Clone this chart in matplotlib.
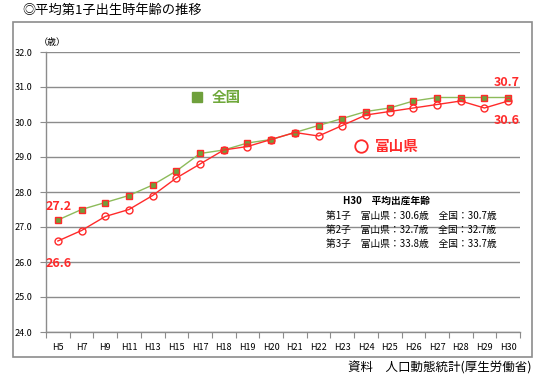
import matplotlib
matplotlib.use("Agg")
import matplotlib.pyplot as plt
from matplotlib.patches import Rectangle
from matplotlib.lines import Line2D

plt.rcParams['font.family'] = ['Noto Sans CJK JP', 'DejaVu Sans']

years = ["H5", "H7", "H9", "H11", "H13", "H15", "H17", "H18", "H19", "H20",
         "H21", "H22", "H23", "H24", "H25", "H26", "H27", "H28", "H29", "H30"]
national = [27.2, 27.5, 27.7, 27.9, 28.2, 28.6, 29.1, 29.2, 29.4, 29.5,
            29.7, 29.9, 30.1, 30.3, 30.4, 30.6, 30.7, 30.7, 30.7, 30.7]
toyama = [26.6, 26.9, 27.3, 27.5, 27.9, 28.4, 28.8, 29.2, 29.3, 29.5,
          29.7, 29.6, 29.9, 30.2, 30.3, 30.4, 30.5, 30.6, 30.4, 30.6]
yticks = [24.0, 25.0, 26.0, 27.0, 28.0, 29.0, 30.0, 31.0, 32.0]

GREEN_LINE = "#8DBB5A"
GREEN_FILL = "#6FA03C"
GREEN_TEXT = "#6FA83A"
RED = "#FF2A2A"
GRAY = "#8C8C8C"

W, H = 540, 380
fig = plt.figure(figsize=(W / 100, H / 100), dpi=100)

# outer frame
fig.patches.append(Rectangle((13 / W, 1 - 357 / H), (532 - 13) / W, (357 - 22) / H,
                             transform=fig.transFigure, fill=False,
                             edgecolor=GRAY, linewidth=1.2))

ax = fig.add_axes([46 / W, 1 - 332 / H, (520 - 46) / W, (332 - 52) / H])
x = list(range(len(years)))

ax.plot(x, national, color=GREEN_LINE, linewidth=1.0, marker='s', markersize=5,
        markerfacecolor=GREEN_FILL, markeredgecolor=RED, markeredgewidth=1.0, zorder=3)
ax.plot(x, toyama, color=RED, linewidth=1.0, marker='o', markersize=5,
        markerfacecolor='none', markeredgecolor=RED, markeredgewidth=1.0, zorder=4)

ax.set_xlim(-0.5, len(years) - 0.5)
ax.set_ylim(24, 32)
ax.set_yticks(yticks)
ax.set_yticklabels([f"{v:.1f}" for v in yticks], fontsize=6.5)
ax.set_xticks(x)
ax.set_xticklabels(years, fontsize=6.5)
ax.set_xticks([i - 0.5 for i in range(len(years) + 1)], minor=True)
ax.tick_params(axis='x', which='major', length=0, pad=8)
ax.tick_params(axis='x', which='minor', length=4, color=GRAY, width=0.8)
ax.tick_params(axis='y', length=4, color=GRAY, width=0.8, pad=6)
ax.grid(axis='y', color=GRAY, linewidth=1.0)
ax.set_axisbelow(True)
for s in ['top', 'right']:
    ax.spines[s].set_visible(False)
for s in ['left', 'bottom']:
    ax.spines[s].set_color(GRAY)
    ax.spines[s].set_linewidth(1.0)

# value annotations
ax.annotate(f"{national[0]:.1f}", (x[0], national[0]), xytext=(-9, 10),
            textcoords='offset points', color=RED, fontsize=9, fontweight='bold',
            ha='left', va='center')
ax.annotate(f"{toyama[0]:.1f}", (x[0], toyama[0]), xytext=(-9, -16),
            textcoords='offset points', color=RED, fontsize=9, fontweight='bold',
            ha='left', va='center')
ax.annotate(f"{national[-1]:.1f}", (x[-1], national[-1]), xytext=(8, 11),
            textcoords='offset points', color=RED, fontsize=9, fontweight='bold',
            ha='right', va='center')
ax.annotate(f"{toyama[-1]:.1f}", (x[-1], toyama[-1]), xytext=(8, -14),
            textcoords='offset points', color=RED, fontsize=9, fontweight='bold',
            ha='right', va='center')

# texts in figure pixel coordinates
def ftext(px, py, s, **kw):
    fig.text(px / W, 1 - py / H, s, **kw)

ftext(22, 10, "◎平均第1子出生時年齢の推移", fontsize=9.5, va='center', ha='left')
ftext(39, 42, "（歳）", fontsize=6.5, va='center', ha='left')
ftext(531, 368, "資料　人口動態統計(厚生労働省)", fontsize=9, va='center', ha='right')

# legend-like labels
fig.lines.append(Line2D([197 / W], [1 - 97 / H], transform=fig.transFigure, marker='s',
                        markersize=7.5, markerfacecolor=GREEN_FILL,
                        markeredgecolor=GREEN_FILL, linestyle='none'))
ftext(212, 97, "全国", fontsize=10.5, fontweight='bold', color=GREEN_TEXT, va='center')
fig.lines.append(Line2D([361 / W], [1 - 146 / H], transform=fig.transFigure, marker='o',
                        markersize=9, markerfacecolor='none', markeredgecolor=RED,
                        markeredgewidth=1.3, linestyle='none'))
ftext(375, 146, "富山県", fontsize=10.5, fontweight='bold', color=RED, va='center')

# info box
ftext(343, 201, "H30　平均出産年齢", fontsize=7, fontweight='bold', va='center')
ftext(326, 216, "第1子　富山県：30.6歳　全国：30.7歳", fontsize=7, va='center')
ftext(326, 230, "第2子　富山県：32.7歳　全国：32.7歳", fontsize=7, va='center')
ftext(326, 244, "第3子　富山県：33.8歳　全国：33.7歳", fontsize=7, va='center')

fig.savefig("out.png", dpi=100, facecolor='white')
